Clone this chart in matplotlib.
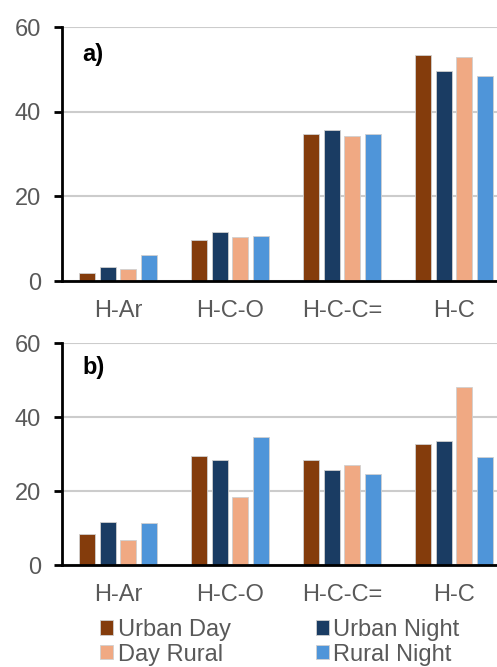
import matplotlib.pyplot as plt
import numpy as np

plt.rcParams['font.family'] = ['Liberation Sans', 'DejaVu Sans']

categories = ['H-Ar', 'H-C-O', 'H-C-C=', 'H-C']
series = ['Urban Day', 'Urban Night', 'Day Rural', 'Rural Night']
colors = ['#843C0C', '#1A3C63', '#F0A983', '#4F95D9']

# panel a)
a_values = {
    'Urban Day':   [2.0, 9.8, 34.8, 53.3],
    'Urban Night': [3.4, 11.5, 35.7, 49.7],
    'Day Rural':   [2.8, 10.4, 34.2, 52.8],
    'Rural Night': [6.1, 10.6, 34.8, 48.4],
}
# panel b)
b_values = {
    'Urban Day':   [8.4, 29.5, 28.5, 32.7],
    'Urban Night': [11.5, 28.5, 25.8, 33.4],
    'Day Rural':   [6.7, 18.3, 26.9, 48.0],
    'Rural Night': [11.3, 34.5, 24.7, 29.2],
}
yticks = [0, 20, 40, 60]

W, H = 497, 667
fig = plt.figure(figsize=(W / 100, H / 100), dpi=100)

grey = '#595959'
fs = 17


def draw(ax, values, label):
    x = np.arange(len(categories))
    step, width = 0.182, 0.143
    bars = []
    for i, name in enumerate(series):
        b = ax.bar(x + (i - 1.5) * step, values[name], width, color=colors[i],
                   edgecolor='#d0d0d0', linewidth=0.6, label=name, zorder=3)
        bars.append(b)
    ax.set_xlim(-0.5, len(categories) - 0.5)
    ax.set_ylim(0, 60)
    ax.set_yticks(yticks)
    ax.set_xticks(x)
    ax.set_xticklabels(categories)
    ax.yaxis.grid(True, color='#cccccc', linewidth=1.5, zorder=0)
    ax.set_axisbelow(True)
    for s in ['top', 'right']:
        ax.spines[s].set_visible(False)
    for s in ['left', 'bottom']:
        ax.spines[s].set_linewidth(2)
        ax.spines[s].set_color('black')
        ax.spines[s].set_zorder(4)
    ax.tick_params(axis='y', length=6, width=2, pad=9, labelsize=fs, labelcolor=grey)
    ax.tick_params(axis='x', length=0, pad=14, labelsize=fs, labelcolor=grey)
    ax.text(0.045, 0.89, label, transform=ax.transAxes, fontsize=fs,
            fontweight='bold', color='black', va='center', ha='left')
    return bars


ax1 = fig.add_axes([62 / W, 1 - 281 / H, 448 / W, 254 / H])
ax2 = fig.add_axes([62 / W, 1 - 565 / H, 448 / W, 222 / H])
draw(ax1, a_values, 'a)')
bars = draw(ax2, b_values, 'b)')

order = [0, 2, 1, 3]
fig.legend([bars[i] for i in order], [series[i] for i in order],
           loc='upper left', bbox_to_anchor=(88 / W, 1 - 607 / H), ncol=2,
           frameon=False, fontsize=fs, handlelength=0.55, handleheight=0.55,
           handletextpad=0.2, columnspacing=3.6, labelspacing=0.12,
           borderpad=0, labelcolor=grey)

fig.savefig('out.png', dpi=100)
